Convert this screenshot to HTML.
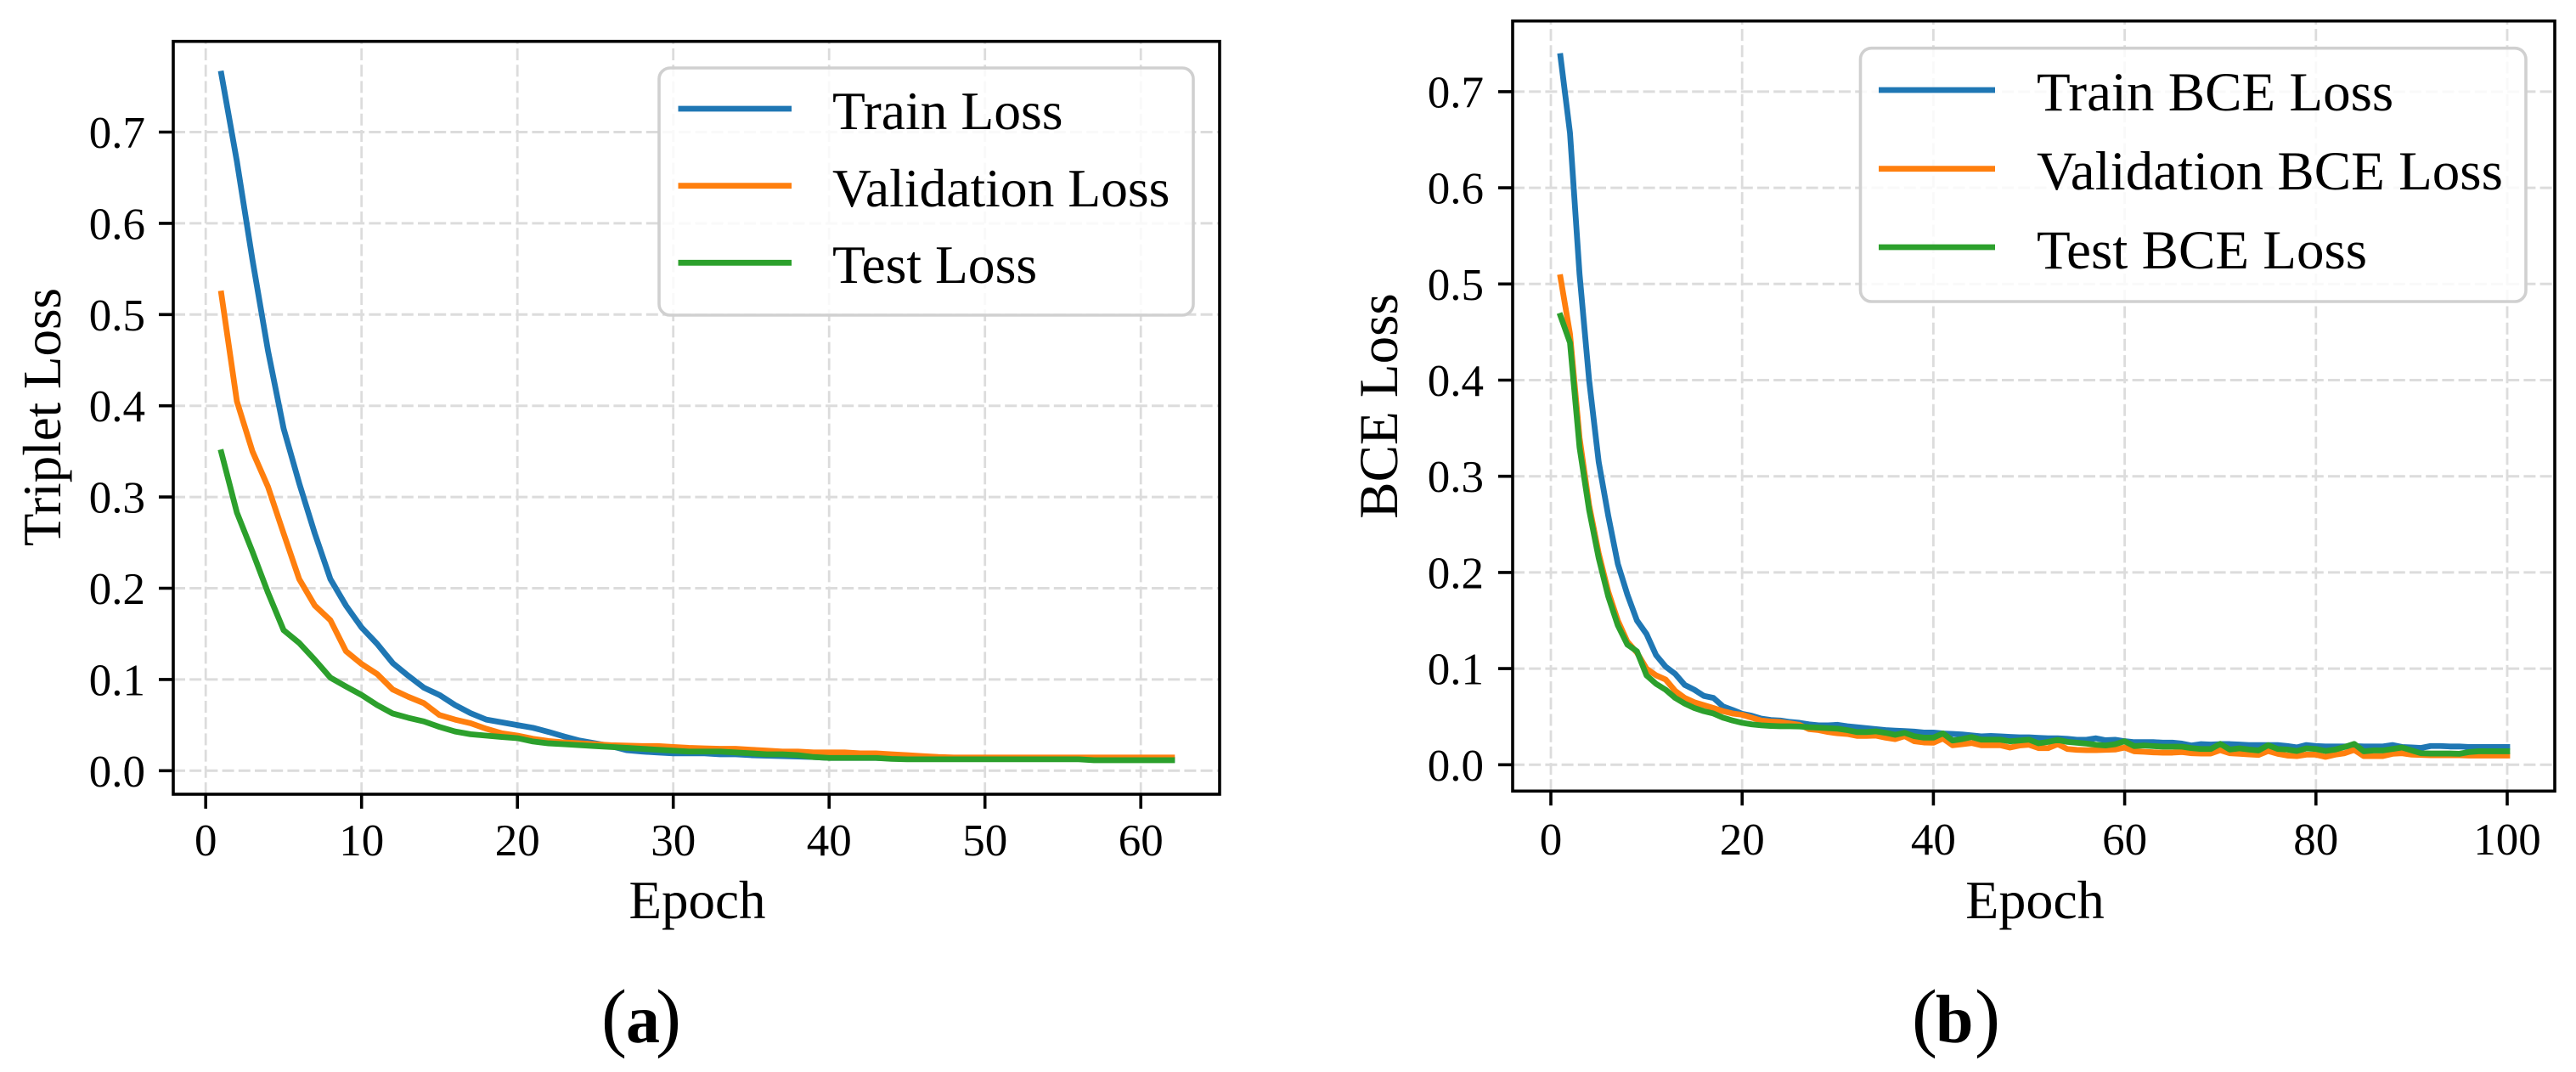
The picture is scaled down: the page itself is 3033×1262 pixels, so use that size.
<!DOCTYPE html>
<html lang="en">
<head>
<meta charset="utf-8">
<title>Triplet and BCE loss curves</title>
<style>
html,body{margin:0;padding:0;background:#fff;width:3033px;height:1262px;overflow:hidden}
svg{display:block}
text{font-family:"Liberation Serif","Times New Roman",serif;fill:#000}
</style>
</head>
<body>
<svg id="figure" xmlns="http://www.w3.org/2000/svg" width="3033" height="1262" viewBox="0 0 3033 1262"></svg>
<script>
// ---------- Panel (a) data ----------
const tripletXTicks = [0, 10, 20, 30, 40, 50, 60];
const tripletYTicks = [0.0, 0.1, 0.2, 0.3, 0.4, 0.5, 0.6, 0.7];
const tripletTrain = [0.764,0.668,0.56,0.46,0.375,0.315,0.26,0.21,0.181,0.157,0.139,0.118,0.104,0.091,0.083,0.072,0.063,0.056,0.053,0.05,0.047,0.0425,0.0375,0.033,0.03,0.027,0.0225,0.021,0.02,0.019,0.019,0.019,0.018,0.018,0.017,0.0165,0.016,0.0155,0.015,0.014,0.014,0.014,0.014,0.0135,0.013,0.013,0.013,0.013,0.013,0.013,0.013,0.013,0.013,0.013,0.013,0.013,0.012,0.012,0.012,0.012,0.012,0.012];
const tripletVal = [0.523,0.405,0.35,0.311,0.26,0.21,0.181,0.165,0.131,0.117,0.106,0.089,0.081,0.074,0.061,0.056,0.052,0.046,0.041,0.0385,0.035,0.0325,0.031,0.03,0.029,0.028,0.0275,0.027,0.027,0.026,0.025,0.0245,0.024,0.024,0.023,0.022,0.021,0.021,0.02,0.02,0.02,0.019,0.019,0.018,0.017,0.016,0.015,0.0145,0.0145,0.0145,0.0145,0.0145,0.0145,0.0145,0.0145,0.0145,0.0145,0.0145,0.0145,0.0145,0.0145,0.0145];
const tripletTest = [0.349,0.283,0.24,0.195,0.154,0.14,0.1216,0.102,0.0923,0.083,0.072,0.0627,0.058,0.054,0.048,0.043,0.04,0.0385,0.037,0.0357,0.032,0.03,0.029,0.028,0.027,0.026,0.025,0.024,0.023,0.022,0.021,0.021,0.021,0.02,0.019,0.018,0.018,0.017,0.015,0.014,0.014,0.014,0.014,0.013,0.0125,0.0125,0.0125,0.0125,0.0125,0.0125,0.0125,0.0125,0.0125,0.0125,0.0125,0.0125,0.0115,0.0115,0.0115,0.0115,0.0115,0.0115];

// ---------- Panel (b) data ----------
const bceXTicks = [0, 20, 40, 60, 80, 100];
const bceYTicks = [0.0, 0.1, 0.2, 0.3, 0.4, 0.5, 0.6, 0.7];
const bceTrain = [0.737,0.657,0.51,0.4,0.315,0.259,0.209,0.177,0.15,0.136,0.114,0.102,0.0945,0.083,0.078,0.0716,0.0695,0.0607,0.057,0.053,0.051,0.048,0.0465,0.046,0.0445,0.0436,0.042,0.041,0.041,0.0415,0.04,0.039,0.038,0.037,0.036,0.0355,0.035,0.0345,0.0335,0.0335,0.0325,0.032,0.0315,0.0305,0.0295,0.03,0.0295,0.029,0.0285,0.0285,0.028,0.0275,0.0275,0.027,0.026,0.026,0.0275,0.0255,0.026,0.0245,0.0235,0.0235,0.0235,0.023,0.023,0.022,0.02,0.0215,0.021,0.0215,0.0215,0.021,0.0205,0.0205,0.0205,0.0205,0.0195,0.018,0.0205,0.0195,0.019,0.019,0.019,0.0195,0.019,0.019,0.019,0.0205,0.0185,0.018,0.0175,0.0195,0.0195,0.019,0.019,0.0185,0.0185,0.0185,0.0185,0.0185];
const bceVal = [0.507,0.448,0.34,0.27,0.22,0.18,0.15,0.128,0.1166,0.1,0.093,0.0886,0.0768,0.0695,0.065,0.062,0.059,0.0557,0.0533,0.052,0.049,0.046,0.045,0.0445,0.043,0.0415,0.037,0.036,0.034,0.0327,0.032,0.03,0.03,0.0303,0.0282,0.0267,0.0297,0.0244,0.0232,0.0229,0.0273,0.0203,0.0214,0.0226,0.0203,0.0203,0.0203,0.0179,0.02,0.0208,0.0173,0.0173,0.0214,0.0164,0.0155,0.0152,0.0152,0.0155,0.0158,0.0179,0.014,0.0135,0.0129,0.0126,0.0126,0.0132,0.012,0.0117,0.0117,0.0152,0.012,0.0114,0.0108,0.0102,0.0143,0.0114,0.0096,0.009,0.0105,0.0105,0.0082,0.0105,0.012,0.0155,0.009,0.009,0.009,0.0114,0.012,0.0105,0.0102,0.0099,0.0099,0.0099,0.0099,0.0096,0.0096,0.0096,0.0096,0.0096];
const bceTest = [0.467,0.439,0.33,0.265,0.215,0.175,0.145,0.125,0.118,0.093,0.0842,0.078,0.0695,0.0636,0.059,0.0557,0.0533,0.049,0.046,0.0436,0.042,0.041,0.0404,0.04,0.04,0.0398,0.039,0.0386,0.038,0.0375,0.036,0.034,0.034,0.0347,0.0332,0.0311,0.0332,0.0297,0.0282,0.0282,0.0326,0.0252,0.0267,0.0288,0.0261,0.0261,0.0261,0.0244,0.0252,0.0261,0.0223,0.0238,0.0258,0.0238,0.0229,0.022,0.0208,0.02,0.0214,0.0244,0.0194,0.02,0.0194,0.0188,0.0188,0.0188,0.0173,0.0164,0.0164,0.0217,0.0158,0.017,0.0158,0.0149,0.0203,0.0164,0.0158,0.0143,0.017,0.0164,0.0143,0.0158,0.0185,0.0217,0.014,0.0149,0.0149,0.0164,0.0179,0.0149,0.012,0.0117,0.0117,0.0117,0.0114,0.0132,0.014,0.014,0.014,0.014];

const seriesColors = ['#1f77b4', '#ff7f0e', '#2ca02c'];
const NS = 'http://www.w3.org/2000/svg';
const root = document.getElementById('figure');

function make(tag, attrs, parent, content) {
  const el = document.createElementNS(NS, tag);
  for (const k in attrs) el.setAttribute(k, attrs[k]);
  if (content !== undefined) el.textContent = content;
  parent.appendChild(el);
  return el;
}

function drawPanel(cfg) {
  const g = make('g', {}, root);
  
  
  const xPos = v => cfg.x0 + v * cfg.xScale;
  const yPos = v => cfg.y0 - v * cfg.yScale;

  // grid
  cfg.xTicks.forEach(t => {
    const el = make('line', {x1: xPos(t), x2: xPos(t), y1: cfg.bottom, y2: cfg.top, stroke: '#dcdcdc', 'stroke-width': 2.8, 'stroke-dasharray': '14 5.2'}, g);
    
    
  });
  cfg.yTicks.forEach(t => {
    const el = make('line', {x1: cfg.left, x2: cfg.right, y1: yPos(t), y2: yPos(t), stroke: '#dcdcdc', 'stroke-width': 3, 'stroke-dasharray': '14 5.2'}, g);
    
    
  });

  // series
  cfg.series.forEach((s, i) => {
    const pts = s.values.map((v, idx) => xPos(idx + 1).toFixed(2) + ',' + yPos(v).toFixed(2)).join(' ');
    const el = make('polyline', {points: pts, fill: 'none', stroke: seriesColors[i], 'stroke-width': 6.8, 'stroke-linejoin': 'round', 'stroke-linecap': 'square'}, g);
    
    
  });

  // legend
  const leg = make('g', {}, g);
  
  
  const box = make('rect', {x: cfg.legend.x, y: cfg.legend.y, width: cfg.legend.w, height: cfg.legend.h, rx: 13, ry: 13, fill: '#fff', 'fill-opacity': 0.82, stroke: '#d0d0d0', 'stroke-width': 3.6}, leg);
  
  
  cfg.series.forEach((s, i) => {
    const ln = make('line', {x1: cfg.legend.lx1, x2: cfg.legend.lx2, y1: cfg.legend.lineY[i], y2: cfg.legend.lineY[i], stroke: seriesColors[i], 'stroke-width': 6.8}, leg);
    
    
    const tx = make('text', {x: cfg.legend.tx, y: cfg.legend.textY[i], 'font-size': cfg.legend.fs}, leg, s.label);
    
    
  });

  // ticks and labels
  cfg.xTicks.forEach(t => {
    const tk = make('line', {x1: xPos(t), x2: xPos(t), y1: cfg.bottom, y2: cfg.bottom + 17, stroke: '#000', 'stroke-width': 3.6}, g);
    
    
    const lb = make('text', {x: xPos(t), y: cfg.xTickBase, 'font-size': 53, 'text-anchor': 'middle'}, g, String(t));
    
    
  });
  cfg.yTicks.forEach(t => {
    const tk = make('line', {x1: cfg.left - 17, x2: cfg.left, y1: yPos(t), y2: yPos(t), stroke: '#000', 'stroke-width': 3.6}, g);
    
    
    const lb = make('text', {x: cfg.yTickRight, y: yPos(t) + 18.5, 'font-size': 53, 'text-anchor': 'end'}, g, t.toFixed(1));
    
    
  });

  // spines
  const frame = make('rect', {x: cfg.left, y: cfg.top, width: cfg.right - cfg.left, height: cfg.bottom - cfg.top, fill: 'none', stroke: '#000', 'stroke-width': 3.6}, g);
  
  

  // axis titles
  const xt = make('text', {x: cfg.xTitleX, y: 1081, 'font-size': cfg.titleFs, 'text-anchor': 'middle'}, g, 'Epoch');
  
  
  const yt = make('text', {transform: 'translate(' + cfg.yTitleX + ',' + cfg.yTitleY + ') rotate(-90)', 'font-size': cfg.yTitleFs, 'text-anchor': 'middle'}, g, cfg.yTitle);
  
  

  // caption
  const cap = make('text', {y: 1227, 'font-size': 90}, g);
  
  
  make('tspan', {x: cfg.cap.l, y: 1227}, cap, '(');
  make('tspan', {x: cfg.cap.m, y: 1227, 'font-weight': 'bold', 'font-size': 80}, cap, cfg.cap.t);
  make('tspan', {x: cfg.cap.r, y: 1227}, cap, ')');
}

drawPanel({
  name: 'triplet-loss-panel', left: 204, right: 1436, top: 48.7, bottom: 935,
  x0: 242.2, xScale: 18.35, y0: 907.3, yScale: 1074,
  xTicks: tripletXTicks, yTicks: tripletYTicks,
  series: [
    {id: 'train-loss-line', label: 'Train Loss', values: tripletTrain},
    {id: 'validation-loss-line', label: 'Validation Loss', values: tripletVal},
    {id: 'test-loss-line', label: 'Test Loss', values: tripletTest}
  ],
  legend: {x: 776, y: 80, w: 629, h: 291, lx1: 798.5, lx2: 932, tx: 980, fs: 63.6, lineY: [128, 218.7, 309.3], textY: [152, 243, 333]},
  xTickBase: 1007, yTickRight: 171, xTitleX: 821, yTitleX: 71, yTitleY: 491, titleFs: 63, yTitleFs: 63, yTitle: 'Triplet Loss',
  cap: {l: 708, m: 737, r: 772, t: 'a'}
});

drawPanel({
  name: 'bce-loss-panel', left: 1781, right: 3008, top: 24.7, bottom: 931.3,
  x0: 1826, xScale: 11.26, y0: 900.3, yScale: 1132,
  xTicks: bceXTicks, yTicks: bceYTicks,
  series: [
    {id: 'train-bce-loss-line', label: 'Train BCE Loss', values: bceTrain},
    {id: 'validation-bce-loss-line', label: 'Validation BCE Loss', values: bceVal},
    {id: 'test-bce-loss-line', label: 'Test BCE Loss', values: bceTest}
  ],
  legend: {x: 2190.5, y: 56.7, w: 783.5, h: 298.3, lx1: 2212, lx2: 2349, tx: 2398, fs: 65, lineY: [106, 198.7, 291], textY: [130, 223, 316]},
  xTickBase: 1006, yTickRight: 1747, xTitleX: 2396, yTitleX: 1645, yTitleY: 478, titleFs: 64, yTitleFs: 65, yTitle: 'BCE Loss',
  cap: {l: 2251, m: 2279, r: 2325, t: 'b'}
});
</script>
</body>
</html>
